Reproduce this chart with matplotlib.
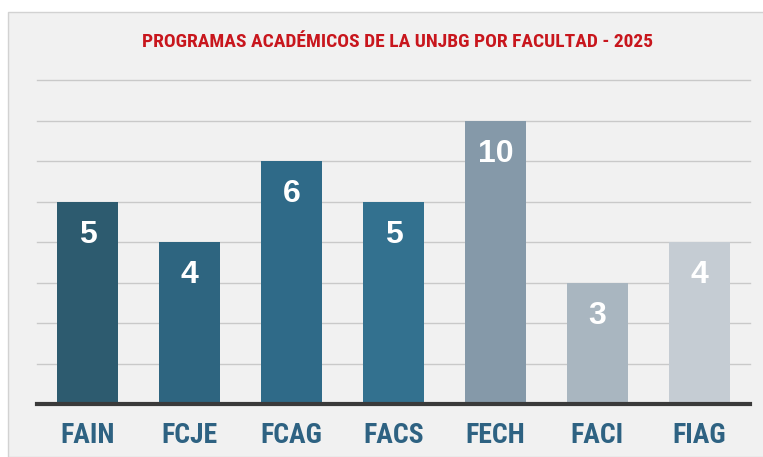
import matplotlib.pyplot as plt
from matplotlib.patches import Rectangle
from matplotlib import font_manager

# datos del grafico
facultades = ['FAIN', 'FCJE', 'FCAG', 'FACS', 'FECH', 'FACI', 'FIAG']
programas = [5, 4, 6, 5, 10, 3, 4]          # valores rotulados
alturas = [5, 4, 6, 5, 7, 3, 4]             # altura dibujada de cada barra (como en la imagen)
colores = ['#2d5b6f', '#2e6580', '#2f6a88', '#33718f', '#8599a9', '#a9b6c0', '#c5ccd3']

names = {f.name for f in font_manager.fontManager.ttflist}
narrow = 'Roboto'
for n in ['Liberation Sans Narrow', 'Roboto Condensed', 'Open Sans Condensed', 'Noto Sans Condensed']:
    if n in names:
        narrow = n
        break

fig = plt.figure(figsize=(7.63, 4.57), dpi=100, facecolor='white')

# panel gris de fondo
fig.patches.append(Rectangle((8/763, 0), 1, 1 - 12/457, transform=fig.transFigure,
                             facecolor='#f1f1f1', edgecolor='#d2d2d2', lw=1, zorder=-5))

ax = fig.add_axes([37/763, 53/457, 713/763, 324/457])
ax.set_facecolor('none')
ax.set_zorder(2)

x = range(len(facultades))
ax.bar(x, alturas, width=0.6, color=colores, zorder=2)

for i, v in enumerate(programas):
    ax.text(i, alturas[i] - 0.82, str(v), ha='center', va='center', color='white',
            fontsize=23, fontweight='bold', family='Liberation Sans', zorder=3)

ax.set_xlim(-0.5, 6.5)
ax.set_ylim(0, 8)
ax.set_yticks(range(1, 9))
ax.yaxis.grid(True, color='#c9c9c9', lw=1, zorder=1)
for g in ax.get_ygridlines():
    g.set_clip_on(False)
ax.tick_params(axis='y', left=False, labelleft=False)
ax.tick_params(axis='x', length=0, pad=13)
ax.set_xticks(list(x))
ax.set_xticklabels(facultades, fontsize=20, fontweight='bold', color='#2e6282',
                   family=narrow, fontstretch='condensed')
for s in ['top', 'right', 'left']:
    ax.spines[s].set_visible(False)
ax.spines['bottom'].set_color('#3a3a3a')
ax.spines['bottom'].set_linewidth(3)
ax.spines['bottom'].set_zorder(4)

fig.text(398/763, 1 - 42/457, 'PROGRAMAS ACADÉMICOS DE LA UNJBG POR FACULTAD - 2025',
         ha='center', va='center', color='#c8161d', fontsize=14, fontweight='bold',
         family=narrow, fontstretch='condensed')

fig.savefig('out.png', dpi=100, facecolor='white')
